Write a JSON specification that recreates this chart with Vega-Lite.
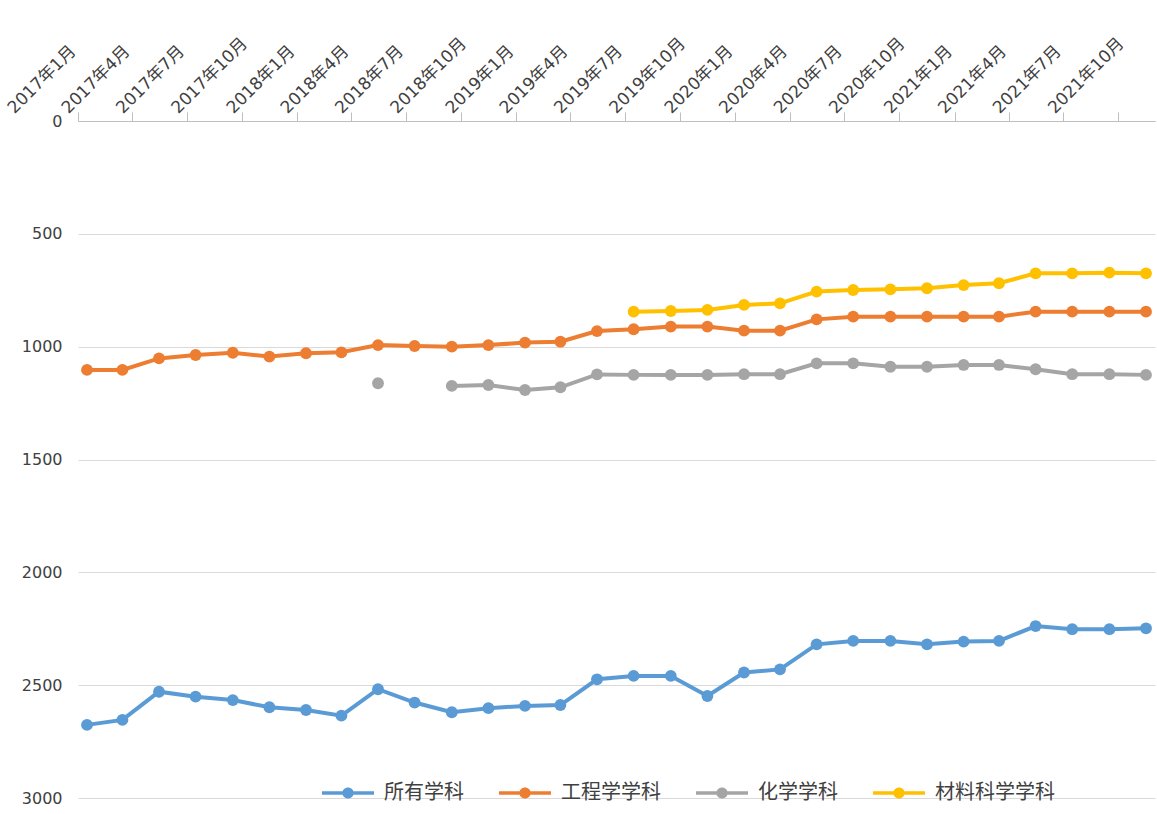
{
  "$schema": "https://vega.github.io/schema/vega-lite/v6.json",
  "width": 1077,
  "height": 677,
  "autosize": {"type": "none"},
  "padding": {"left": 78, "top": 121, "right": 2, "bottom": 16},
  "background": "white",
  "config": {"view": {"stroke": null}},
  "data": {"values": [
    {"d":"2017-01-16","s":"所有学科","r":2676},{"d":"2017-03-16","s":"所有学科","r":2654},{"d":"2017-05-16","s":"所有学科","r":2529},{"d":"2017-07-16","s":"所有学科","r":2551},{"d":"2017-09-16","s":"所有学科","r":2566},{"d":"2017-11-16","s":"所有学科","r":2598},{"d":"2018-01-16","s":"所有学科","r":2610},{"d":"2018-03-16","s":"所有学科","r":2635},{"d":"2018-05-16","s":"所有学科","r":2518},{"d":"2018-07-16","s":"所有学科","r":2577},{"d":"2018-09-16","s":"所有学科","r":2620},{"d":"2018-11-16","s":"所有学科","r":2602},{"d":"2019-01-16","s":"所有学科","r":2592},{"d":"2019-03-16","s":"所有学科","r":2588},{"d":"2019-05-16","s":"所有学科","r":2474},{"d":"2019-07-16","s":"所有学科","r":2459},{"d":"2019-09-16","s":"所有学科","r":2459},{"d":"2019-11-16","s":"所有学科","r":2548},{"d":"2020-01-16","s":"所有学科","r":2444},{"d":"2020-03-16","s":"所有学科","r":2430},{"d":"2020-05-16","s":"所有学科","r":2319},{"d":"2020-07-16","s":"所有学科","r":2304},{"d":"2020-09-16","s":"所有学科","r":2304},{"d":"2020-11-16","s":"所有学科","r":2319},{"d":"2021-01-16","s":"所有学科","r":2307},{"d":"2021-03-16","s":"所有学科","r":2304},{"d":"2021-05-16","s":"所有学科","r":2238},{"d":"2021-07-16","s":"所有学科","r":2252},{"d":"2021-09-16","s":"所有学科","r":2252},{"d":"2021-11-16","s":"所有学科","r":2248},
    {"d":"2017-01-16","s":"工程学学科","r":1103},{"d":"2017-03-16","s":"工程学学科","r":1103},{"d":"2017-05-16","s":"工程学学科","r":1052},{"d":"2017-07-16","s":"工程学学科","r":1037},{"d":"2017-09-16","s":"工程学学科","r":1027},{"d":"2017-11-16","s":"工程学学科","r":1044},{"d":"2018-01-16","s":"工程学学科","r":1029},{"d":"2018-03-16","s":"工程学学科","r":1025},{"d":"2018-05-16","s":"工程学学科","r":993},{"d":"2018-07-16","s":"工程学学科","r":997},{"d":"2018-09-16","s":"工程学学科","r":1000},{"d":"2018-11-16","s":"工程学学科","r":993},{"d":"2019-01-16","s":"工程学学科","r":982},{"d":"2019-03-16","s":"工程学学科","r":978},{"d":"2019-05-16","s":"工程学学科","r":931},{"d":"2019-07-16","s":"工程学学科","r":923},{"d":"2019-09-16","s":"工程学学科","r":911},{"d":"2019-11-16","s":"工程学学科","r":911},{"d":"2020-01-16","s":"工程学学科","r":929},{"d":"2020-03-16","s":"工程学学科","r":929},{"d":"2020-05-16","s":"工程学学科","r":879},{"d":"2020-07-16","s":"工程学学科","r":867},{"d":"2020-09-16","s":"工程学学科","r":867},{"d":"2020-11-16","s":"工程学学科","r":867},{"d":"2021-01-16","s":"工程学学科","r":867},{"d":"2021-03-16","s":"工程学学科","r":867},{"d":"2021-05-16","s":"工程学学科","r":845},{"d":"2021-07-16","s":"工程学学科","r":845},{"d":"2021-09-16","s":"工程学学科","r":845},{"d":"2021-11-16","s":"工程学学科","r":845},
    {"d":"2018-05-16","s":"化学学科","r":1162},{"d":"2018-07-16","s":"化学学科","r":null},{"d":"2018-09-16","s":"化学学科","r":1174},{"d":"2018-11-16","s":"化学学科","r":1170},{"d":"2019-01-16","s":"化学学科","r":1192},{"d":"2019-03-16","s":"化学学科","r":1180},{"d":"2019-05-16","s":"化学学科","r":1123},{"d":"2019-07-16","s":"化学学科","r":1125},{"d":"2019-09-16","s":"化学学科","r":1125},{"d":"2019-11-16","s":"化学学科","r":1125},{"d":"2020-01-16","s":"化学学科","r":1122},{"d":"2020-03-16","s":"化学学科","r":1122},{"d":"2020-05-16","s":"化学学科","r":1074},{"d":"2020-07-16","s":"化学学科","r":1074},{"d":"2020-09-16","s":"化学学科","r":1089},{"d":"2020-11-16","s":"化学学科","r":1089},{"d":"2021-01-16","s":"化学学科","r":1081},{"d":"2021-03-16","s":"化学学科","r":1081},{"d":"2021-05-16","s":"化学学科","r":1100},{"d":"2021-07-16","s":"化学学科","r":1122},{"d":"2021-09-16","s":"化学学科","r":1122},{"d":"2021-11-16","s":"化学学科","r":1125},
    {"d":"2019-07-16","s":"材料科学学科","r":845},{"d":"2019-09-16","s":"材料科学学科","r":842},{"d":"2019-11-16","s":"材料科学学科","r":837},{"d":"2020-01-16","s":"材料科学学科","r":815},{"d":"2020-03-16","s":"材料科学学科","r":808},{"d":"2020-05-16","s":"材料科学学科","r":756},{"d":"2020-07-16","s":"材料科学学科","r":749},{"d":"2020-09-16","s":"材料科学学科","r":746},{"d":"2020-11-16","s":"材料科学学科","r":741},{"d":"2021-01-16","s":"材料科学学科","r":727},{"d":"2021-03-16","s":"材料科学学科","r":719},{"d":"2021-05-16","s":"材料科学学科","r":675},{"d":"2021-07-16","s":"材料科学学科","r":675},{"d":"2021-09-16","s":"材料科学学科","r":672},{"d":"2021-11-16","s":"材料科学学科","r":675}
  ]},
  "encoding": {
    "x": {
      "field": "d", "type": "temporal", "title": null,
      "scale": {"type": "utc", "domain": [{"year": 2017, "month": 1, "date": 1, "utc": true}, {"year": 2021, "month": 12, "date": 1, "utc": true}], "nice": false},
      "axis": {
        "orient": "top", "format": "%Y年%-m月", "tickCount": {"interval": "month", "step": 3},
        "grid": false, "domainColor": "#BFBFBF", "tickColor": "#BFBFBF", "tickSize": 9,
        "labelAngle": -45, "labelAlign": "left", "labelBaseline": "alphabetic",
        "labelOffset": -64, "labelPadding": -2, "labelOverlap": false, "labelFlush": false,
        "labelFont": "DejaVu Sans, Noto Sans CJK SC", "labelFontSize": 17, "labelColor": "#404040"
      }
    },
    "y": {
      "field": "r", "type": "quantitative", "title": null,
      "scale": {"domain": [0, 3000], "reverse": true, "nice": false},
      "axis": {
        "values": [0, 500, 1000, 1500, 2000, 2500, 3000], "format": "d", "domain": false, "ticks": false,
        "grid": true, "gridColor": "#D9D9D9", "gridWidth": 1, "labelPadding": 16,
        "labelFont": "DejaVu Sans", "labelFontSize": 16, "labelColor": "#404040"
      }
    },
    "color": {
      "field": "s", "type": "nominal",
      "scale": {"domain": ["所有学科", "工程学学科", "化学学科", "材料科学学科"], "range": ["#5B9BD5", "#ED7D31", "#A5A5A5", "#FFC000"]},
      "legend": {
        "title": null, "orient": "none", "direction": "horizontal", "legendX": 242, "legendY": 644,
        "symbolType": "M-1,0L1,0M0.15,0L0.13,0.075L0.075,0.13L0,0.15L-0.075,0.13L-0.13,0.075L-0.15,0L-0.13,-0.075L-0.075,-0.13L0,-0.15L0.075,-0.13L0.13,-0.075Z",
        "symbolSize": 2704, "symbolStrokeWidth": 3.5, "symbolOpacity": 1,
        "labelFont": "Noto Sans CJK SC", "labelFontSize": 20, "labelColor": "#404040", "labelOffset": 8, "columnPadding": 33,
        "encode": {"symbols": {"update": {"fill": {"scale": "color", "field": "value"}, "stroke": {"scale": "color", "field": "value"}, "strokeJoin": {"value": "round"}}}}
      }
    }
  },
  "layer": [
    {"mark": {"type": "line", "strokeWidth": 4}},
    {"mark": {"type": "point", "filled": true, "size": 140, "opacity": 1}}
  ]
}
